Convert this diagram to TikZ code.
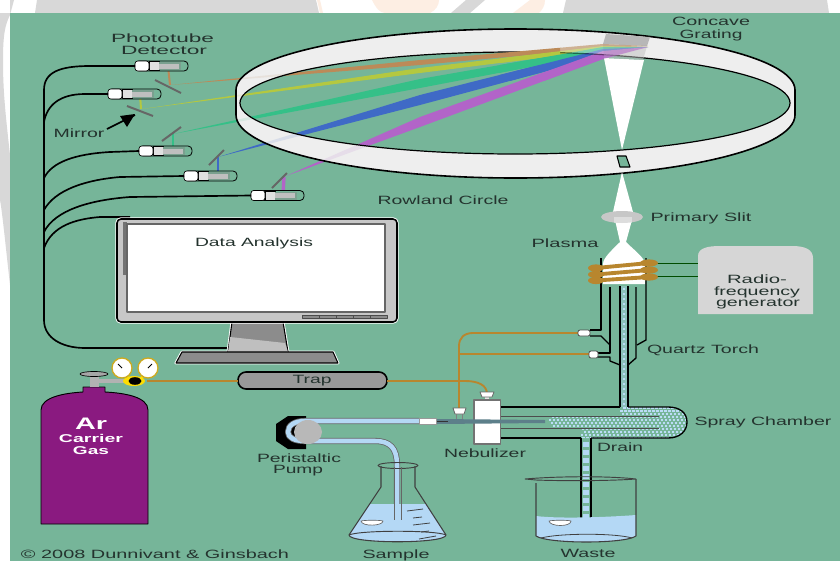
\documentclass[tikz,border=0pt]{standalone}
\usepackage{fontspec}
\setmainfont{Liberation Sans}
\usetikzlibrary{calc}
\definecolor{bggreen}{HTML}{76B599}
\definecolor{ringfill}{HTML}{EEEEEE}
\definecolor{txt}{HTML}{24332E}
\definecolor{wmgray}{HTML}{D8D8D8}
\definecolor{wmorange}{HTML}{FDEEE3}
\definecolor{cOr}{HTML}{BC8A58}
\definecolor{cYe}{HTML}{B4C840}
\definecolor{cGr}{HTML}{35C088}
\definecolor{cBl}{HTML}{3F6AC6}
\definecolor{cPu}{HTML}{B264C8}
\definecolor{tubeB}{HTML}{B4D8F5}
\definecolor{brass}{HTML}{B8862E}
\definecolor{argon}{HTML}{8A1A80}
\definecolor{needle}{HTML}{5D7F8A}
\newsavebox\labbox
\newcommand\lab[2]{\sbox\labbox{\vphantom{Ag}#2}\pgfmathsetmacro\labsx{0.75*#1/\the\wd\labbox}\scalebox{\labsx}[1]{\usebox\labbox}}
\newcommand\beamset{%
  \fill[cOr] (170,85) -- (420,60) -- (603,44) -- (648,46) -- (603,48) -- (420,65) -- cycle;
  \fill[cYe] (142,109) -- (420,68) -- (603,46) -- (648,47) -- (603,50) -- (420,73) -- cycle;
  \fill[cGr] (173,134) -- (420,79) -- (603,47) -- (648,47) -- (603,53) -- (420,88) -- cycle;
  \fill[cBl] (218,157) -- (420,95) -- (603,49) -- (648,47) -- (603,56) -- (420,105) -- cycle;
  \fill[cPu] (286,176) -- (420,117) -- (603,51) -- (648,47) -- (603,59) -- (420,127) -- cycle;
}
\newcommand\detector[3]{%
  \begin{scope}[shift={(#1,#2)}]
    \draw[line width=0.6pt,rounded corners=3pt,fill=bggreen] (0,-5) rectangle (53,5);
    \draw[line width=0.4pt,fill=black!12] (14,-4.5) rectangle (24,4.5);
    \fill[bggreen!60!gray] (24,-4) rectangle (46,4);
    \fill[black!25] (24,-2.5) rectangle (44,2.5);
    \draw[line width=0.5pt,fill=white,rounded corners=2pt] (0,-5) rectangle (14,5);
    \coordinate (#3) at (0,0);
  \end{scope}}
\begin{document}
\begin{tikzpicture}[x=0.75pt,y=-0.75pt,line join=round,
  mirrorline/.style={draw=black!60,line width=1.5pt},
  wire/.style={draw=black,line width=1.25pt},
  gasline/.style={draw=brass,line width=1.4pt},
  thinline/.style={draw=black!85!green,line width=0.75pt},
  tubeline/.style={draw=black,line width=1pt},
  label/.style={inner sep=0pt,yshift=-0.75pt,text=txt,font=\fontsize{9}{9}\selectfont},
  wlabel/.style={inner sep=0pt,yshift=-0.75pt,text=white,font=\bfseries\fontsize{8.5}{8.5}\selectfont}]
\clip (0,0) rectangle (840,561);
% backdrop
\fill[white] (0,0) rectangle (840,561);
\fill[wmgray] (37,0) -- (35,13) -- (319,13) -- (316,0) -- cycle;
\fill[wmorange] (372,0) .. controls (376,8) and (380,13) .. (385,13) -- (430,13) .. controls (436,10) and (439,5) .. (439,0) -- cycle;
\fill[wmorange] (320,0) -- (323,13) -- (320,13) -- (317,0) -- cycle;
\fill[wmgray] (466,0) -- (485,0) -- (470,13) -- (451,13) -- cycle;
\fill[wmorange] (530,0) -- (545,0) .. controls (545,6) and (542,10) .. (539,13) -- (513,13) -- cycle;
\fill[wmgray] (566,0) -- (827,0) -- (829,13) -- (563,13) -- cycle;
\fill[wmgray] (0,13) -- (10,13) -- (10,0) -- (14,0) -- (10,15) .. controls (5,25) and (3,35) .. (3,60) .. controls (3,90) and (5,110) .. (10,155) -- (10,285) .. controls (5,240) and (2,210) .. (0,200) -- cycle;
\fill[bggreen] (10,13) rectangle (840,561);
% Rowland circle
\fill[ringfill] (236,90) arc[start angle=180,end angle=360,x radius=279.5,y radius=61] -- (795,115) arc[start angle=0,end angle=180,x radius=279.5,y radius=63] -- cycle;
\fill[bggreen] (515,103) ellipse[x radius=275,y radius=51];
\beamset
\fill[ringfill,fill opacity=0.88,even odd rule] (236,90) arc[start angle=180,end angle=360,x radius=279.5,y radius=61] -- (795,115) arc[start angle=0,end angle=180,x radius=279.5,y radius=63] -- cycle (515,103) ellipse[x radius=275,y radius=51];
\draw[line width=0.9pt] (515,103) ellipse[x radius=275,y radius=51];
\draw[line width=1.2pt] (236,115) -- (236,90) arc[start angle=180,end angle=360,x radius=279.5,y radius=61] -- (795,115) arc[start angle=0,end angle=180,x radius=279.5,y radius=63];
% grating and fan
\fill[white] (604,58) -- (644,60) -- (622,150) -- cycle;
\fill[black!30,fill opacity=0.9] (606,34) -- (650,37) -- (647,46) -- (603,44) -- cycle;
\fill[black!25,fill opacity=0.5] (603,44) -- (647,46) -- (643,60) -- (604,58) -- cycle;
\begin{scope}
  \clip (500,30) rectangle (560,80);
  \beamset
\end{scope}
\begin{scope}[opacity=0.55,transparency group]
  \clip (560,30) rectangle (660,80);
  \beamset
\end{scope}
% entrance slit
\draw[line width=0.8pt,fill=bggreen] (617,156) -- (626,156) -- (630,167) -- (620,167) -- cycle;
% lower light path
\fill[white] (622,172) -- (613,212) -- (633,212) -- cycle;
\fill[white] (615,220) -- (632,220) -- (626,242) .. controls (634,250) and (645,258) .. (645,264) -- (645,284) -- (603,284) -- (603,264) .. controls (603,258) and (612,250) .. (620,242) -- cycle;
\fill[black!22] (622,217) ellipse[x radius=21,y radius=6];
\fill[white,opacity=0.4] (614,217) rectangle (632,223);
% mirror beams
\draw[cOr,line width=1.5pt] (170,85) -- (168,66);
\draw[cYe,line width=1.5pt] (141,109) -- (140,94);
\draw[cGr,line width=1.5pt] (173,134) -- (173,152);
\draw[cBl,line width=1.8pt] (218,157) -- (218,176);
\draw[cPu,line width=2.5pt] (284,177) -- (283,195);
\draw[mirrorline] (155,80) -- (181,93);
\draw[mirrorline] (127,106) -- (153,116);
\draw[mirrorline] (162,141) -- (181,127);
\draw[mirrorline] (209,165) -- (224,150);
\draw[mirrorline] (272,188) -- (287,173);
% detectors
\detector{135}{66}{det1}
\detector{108}{94}{det2}
\detector{139}{151}{det3}
\detector{184}{176}{det4}
\detector{251}{195.5}{det5}
% wires
\coordinate (busBot) at (44,320);
\coordinate (monWire) at (232,348);
\coordinate (monTop) at (130,217);
\draw[wire] (det1) -- (90,66) .. controls (60,66) and (44,72) .. (44,90) -- (busBot) .. controls (44,338) and (62,348) .. (85,348) -- (monWire);
\draw[wire] (det2) -- (85,94) .. controls (60,94) and (47,105) .. (44,122);
\draw[wire] (det3) -- (110,152) .. controls (75,154) and (52,162) .. (44,178);
\draw[wire] (det4) -- (120,177) .. controls (85,180) and (55,190) .. (44,210);
\draw[wire] (det5) -- (130,197) .. controls (90,200) and (55,210) .. (44,232);
\draw[wire] (monTop) -- (100,217) .. controls (75,219) and (52,226) .. (44,248);
% monitor
\draw[white,line width=2.2pt] (232,322) -- (283,322) -- (288,352) -- (228,352) -- cycle;
\draw[white,line width=2.2pt] (182,352) -- (333,352) -- (338,363) -- (176,363) -- cycle;
\draw[line width=0.8pt,fill=black!45] (232,322) -- (283,322) -- (288,352) -- (228,352) -- cycle;
\fill[black!25] (230,337) -- (285,343) -- (288,352) -- (228,352) -- cycle;
\draw[line width=0.8pt,fill=black!45] (182,352) -- (333,352) -- (338,363) -- (176,363) -- cycle;
\draw[white,line width=2.5pt,rounded corners=3pt] (117,219) rectangle (397,322);
\draw[line width=1.2pt,fill=black!22,rounded corners=3pt] (117,219) rectangle (397,322);
\fill[black!55] (123,222) rectangle (127,275);
\draw[black!60,line width=0.8pt,fill=white] (127,224) rectangle (385,312);
\foreach \bx in {302,319,336,353,370} \draw[black!70,line width=0.6pt,fill=black!45] (\bx,315) rectangle +(17,3);
\node[label] (dataLabel) at (254,242) {\lab{118}{Data Analysis}};
% cylinder and regulator
\draw[line width=0.7pt,fill=argon] (41,524) -- (41,410) .. controls (41,397) and (65,393) .. (83,392) -- (83,387) -- (105,387) -- (105,392) .. controls (125,393) and (148,397) .. (148,410) -- (148,524) -- cycle;
\fill[black!30] (90,372) rectangle (99,387);
\fill[black!30] (99,379) rectangle (128,383);
\draw[line width=0.5pt,fill=black!35] (94,374) ellipse[x radius=14,y radius=2.5];
\fill[yellow!80!orange] (134,381) ellipse[x radius=11,y radius=5];
\draw[yellow!80!orange,line width=2pt] (129,380) -- (125,373) (140,380) -- (145,373);
\fill[black] (135,381) ellipse[x radius=6.5,y radius=3.8];
\draw[brass!70!yellow,line width=1pt,fill=white] (122,368) circle[radius=10];
\draw[brass!70!yellow,line width=1pt,fill=white] (148,368) circle[radius=10];
\draw[line width=0.7pt] (122,368) -- (118,364) (148,368) -- (152,364);
\node[wlabel] (arLabel) at (91,425) {\fontsize{12.5}{12.5}\selectfont\lab{32}{Ar}};
\node[wlabel] (carrierLabel) at (91,439) {\lab{64}{Carrier}};
\node[wlabel] (gasLabel) at (91,451) {\lab{36}{Gas}};
% trap and gas lines
\draw[line width=1.2pt,fill=black!40,rounded corners=6pt] (238,372) rectangle (387,389);
\node[label] (trapLabel) at (312,380) {\lab{39}{Trap}};
\coordinate (regOut) at (147,381);
\coordinate (trapL) at (238,381);
\coordinate (trapR) at (387,381);
\coordinate (nebIn) at (487,394);
\coordinate (sideIn) at (459,410);
\coordinate (torchA) at (580,333);
\coordinate (torchB) at (590,354);
\draw[gasline,line width=1pt] (regOut) -- (trapL);
\draw[gasline] (trapR) -- (465,381) .. controls (478,381) and (487,385) .. (nebIn);
\draw[gasline] (torchA) -- (473,333) .. controls (464,333) and (459,338) .. (459,346) -- (sideIn);
\draw[gasline] (torchB) -- (459,354);
% torch
\draw[tubeline] (601,258) -- (601,330) -- (590,330);
\draw[tubeline] (590,336) -- (601,336) -- (610,345);
\draw[tubeline] (646,258) -- (646,340) -- (637,345);
\draw[tubeline] (610,287) -- (610,353) -- (598,353);
\draw[tubeline] (598,357) -- (610,357) -- (610,361) -- (620,365);
\draw[tubeline] (636,287) -- (636,358) -- (628,365);
\fill[tubeB!35!bggreen] (620,286) rectangle (628,407);
\draw[tubeline] (620,286) -- (620,407);
\draw[tubeline] (628,286) -- (628,407);
\draw[black!70,line width=0.6pt,fill=white,rounded corners=1.5pt] (578,330) rectangle (590,336);
\draw[black!70,line width=0.6pt,fill=white,rounded corners=1.5pt] (589,351) rectangle (598,358);
% coil and RF generator
\coordinate (coilA) at (657,263);
\coordinate (coilB) at (657,276);
\coordinate (rfA) at (698,263);
\coordinate (rfB) at (698,276);
\draw[thinline,black!70!green] (coilA) -- (rfA);
\draw[thinline,black!70!green] (coilB) -- (rfB);
\foreach \yl/\yr in {268/263,274.5/270,280.5/277} {
  \fill[brass] (596,\yl) ellipse[x radius=8,y radius=3.6];
  \fill[brass] (649,\yr) ellipse[x radius=9,y radius=3.6];
  \draw[brass,line width=2.9pt] (596,\yl) -- (649,\yr);
}
\fill[black!16] (698,314) -- (698,256) .. controls (698,248) and (708,246) .. (720,246) -- (792,246) .. controls (806,246) and (813,250) .. (813,258) -- (813,314) -- cycle;
\node[label] (rfLabelA) at (757,279) {\lab{60}{Radio-}};
\node[label] (rfLabelB) at (757,291) {\lab{86}{frequency}};
\node[label] (rfLabelC) at (758,303) {\lab{84}{generator}};
% spray chamber
\begin{scope}
  \clip (500,407) -- (668,407) .. controls (680,407) and (687,413) .. (687,422) .. controls (687,431) and (680,438) .. (668,438) -- (500,438) -- cycle;
  \foreach \gx in {550,554,...,690} \foreach \gy in {408,411,...,438} {
    \pgfmathsetmacro\keep{ (\gy>416 && \gy<428) || \gx>655 || (\gx>618 && \gy<416) || (\gx>578 && \gy>428) ? 1 : 0 }
    \ifdim\keep pt>0.5pt
      \pgfmathsetmacro\ox{mod(\gy*2.3,5)-2}
      \fill[tubeB!90!white] (\gx+\ox,\gy-0.6) rectangle +(2.2,1.3);
    \fi
  }
\end{scope}
\foreach \gy in {288,293,...,404} \fill[tubeB!90!white] (622.5,\gy) rectangle +(2.2,1.5);
\draw[tubeline] (501,407) -- (620,407);
\draw[tubeline] (628,407) -- (668,407) .. controls (680,407) and (687,413) .. (687,422) .. controls (687,431) and (680,438) .. (668,438) -- (591,438);
\draw[tubeline] (581,438) -- (501,438);
\draw[tubeline,line width=0.7pt,black!70] (501,416) -- (659,416);
\draw[tubeline,line width=0.7pt,black!70] (501,428) -- (659,428);
% drain
\coordinate (drainEnd) at (586,526);
\foreach \gy in {442,450,...,518} \fill[tubeB] (583,\gy) rectangle +(6,5);
\draw[tubeline] (581,438) -- (581,526);
\draw[tubeline] (591,438) -- (591,526);
% nebulizer
\draw[black!50,line width=0.6pt] (456,412) -- (456,420) (462,412) -- (462,420);
\draw[black!60,line width=0.6pt,fill=white] (453,408) -- (466,408) -- (464,414) -- (455,414) -- cycle;
\fill[black!10] (485,396) rectangle (489,400);
\draw[black!60,line width=0.6pt,fill=white] (480,392) -- (494,392) -- (492,397) -- (482,397) -- cycle;
\draw[black!55,line width=0.8pt,fill=white] (474,400) rectangle (500.5,444);
\fill[needle] (437,419) -- (545,420) -- (545,423) -- (437,424) -- cycle;
\draw[black!80,line width=0.4pt] (437,421) -- (448,421);
% peristaltic pump and sample tube
\coordinate (pumpIn) at (419,421);
\fill[black] (306,416) -- (288,416) -- (276,424) -- (276,441) -- (288,449) -- (306,449) -- cycle;
\draw[black!60,line width=4.6pt] (pumpIn) -- (305,421) .. controls (295,421) and (288,425) .. (288,432) .. controls (288,438) and (295,441) .. (305,441) -- (375,441) .. controls (390,441) and (397,448) .. (397,465) -- (397,520);
\draw[tubeB,line width=3.4pt] (pumpIn) -- (305,421) .. controls (295,421) and (288,425) .. (288,432) .. controls (288,438) and (295,441) .. (305,441) -- (375,441) .. controls (390,441) and (397,448) .. (397,465) -- (397,520);
\fill[black!28] (308,432) ellipse[x radius=14,y radius=12];
\draw[black!40,line width=0.6pt,fill=white] (419,418) rectangle (436,424);
% flask
\fill[tubeB] (370,504) -- (426,504) -- (446,535) .. controls (446,544) and (350,544) .. (349,535) -- cycle;
\draw[black!75,line width=0.8pt] (381,466) -- (381,487) -- (349,535) .. controls (349,544) and (446,544) .. (446,535) -- (415,487) -- (415,466);
\draw[black!75,line width=0.7pt] (398,465.5) ellipse[x radius=20,y radius=3];
\draw[black!75,line width=0.7pt] (349,535) .. controls (360,530) and (436,530) .. (446,535);
\draw[black!60,line width=0.7pt] (394,467) -- (394,520) (401,467) -- (401,520);
\foreach \xa/\ya/\xb/\yb in {407/511/423/509,413/518/422/517,413/525/430/523,421/532/429/531,419/539/436/536} \draw[black!75,line width=0.6pt] (\xa,\ya) -- (\xb,\yb);
\draw[black!60,line width=0.5pt,fill=white] (361,521) .. controls (365,520) and (380,520) .. (383,521) .. controls (383,526) and (362,527) .. (361,521) -- cycle;
% beaker
\fill[tubeB] (536,516) .. controls (560,519) and (610,517) .. (636,515) -- (636,536) .. controls (625,544) and (548,544) .. (536,536) -- cycle;
\draw[black!75,line width=0.8pt] (536,483) -- (536,536) .. controls (548,544) and (625,544) .. (636,536) -- (636,479);
\draw[black!75,line width=0.7pt] (525,479) .. controls (560,476) and (610,476) .. (636,479) .. controls (610,481) and (560,481) .. (536,480) -- cycle;
\draw[black!75,line width=0.6pt] (541,538) .. controls (560,533) and (615,533) .. (632,538);
\draw[black!60,line width=0.5pt,fill=white] (549,521) .. controls (553,520) and (568,520) .. (571,521) .. controls (571,527) and (550,527) .. (549,521) -- cycle;
% labels
\node[label] (photoLabel) at (162.5,38) {\lab{103}{Phototube}};
\node[label] (detectLabel) at (164,51) {\lab{86}{Detector}};
\node[label] (mirrorLabel) at (79,133) {\lab{51}{Mirror}};
\coordinate (mirrorTip) at (135,115);
\coordinate (mirrorTail) at (107,129);
\draw[line width=1.2pt] (mirrorTail) -- (mirrorTip);
\fill (135,114) -- (120,116) -- (127,127) -- cycle;
\node[label] (rowlandLabel) at (443,200) {\lab{131}{Rowland Circle}};
\node[label] (concaveLabel) at (711,22) {\lab{78}{Concave}};
\node[label] (gratingLabel) at (711,34) {\lab{63}{Grating}};
\node[label] (slitLabel) at (701,217) {\lab{101}{Primary Slit}};
\node[label] (plasmaLabel) at (565,243) {\lab{67}{Plasma}};
\node[label] (torchLabel) at (703,349) {\lab{112}{Quartz Torch}};
\node[label] (sprayLabel) at (763,421) {\lab{137}{Spray Chamber}};
\node[label] (drainLabel) at (620,447) {\lab{46}{Drain}};
\node[label] (nebLabel) at (485,453) {\lab{82}{Nebulizer}};
\node[label] (periLabel) at (299,458) {\lab{84}{Peristaltic}};
\node[label] (pumpLabel) at (298,470) {\lab{50}{Pump}};
\node[label] (sampleLabel) at (396,554) {\lab{67}{Sample}};
\node[label] (wasteLabel) at (588,554) {\lab{55}{Waste}};
\node[label] (copyLabel) at (155,554) {\lab{268}{© 2008 Dunnivant \& Ginsbach}};
\end{tikzpicture}
\end{document}
